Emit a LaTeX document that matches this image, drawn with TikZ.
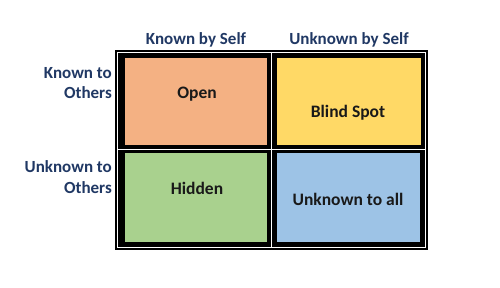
\documentclass[tikz,border=0pt]{standalone}
\usepackage{fontspec}
\setmainfont{Carlito}
\definecolor{navy}{HTML}{203864}
\definecolor{openc}{HTML}{F4B183}
\definecolor{blindc}{HTML}{FFD966}
\definecolor{hiddenc}{HTML}{A9D18E}
\definecolor{unkc}{HTML}{9DC3E6}
\begin{document}
\begin{tikzpicture}[x=1pt,y=-1pt,
  cell/.style={draw=none,inner sep=0pt,anchor=north west},
  celltext/.style={font=\fontsize{17.5}{19}\selectfont\bfseries,text=black!90},
  head/.style={font=\fontsize{17}{19}\selectfont\bfseries,text=navy},
  side/.style={font=\fontsize{17}{20.5}\selectfont\bfseries,text=navy,align=right,anchor=east,inner sep=0pt}]
\useasboundingbox[fill=white] (0,0) rectangle (500,287);
% outer frame
\fill[black] (115,50) rectangle (428,250);
\draw[white,line width=0.9pt] (117.5,52.5) rectangle (425.5,247.5);
\draw[white,line width=0.9pt] (271.5,52.5) -- (271.5,247.5);
\draw[white,line width=0.9pt] (117.5,149) -- (425.5,149);
% cells
\node[cell,fill=openc,minimum width=142pt,minimum height=87pt] (open) at (125,58) {};
\node[cell,fill=blindc,minimum width=144pt,minimum height=87pt] (blind) at (277,58) {};
\node[cell,fill=hiddenc,minimum width=142pt,minimum height=89pt] (hidden) at (125,153) {};
\node[cell,fill=unkc,minimum width=143pt,minimum height=89pt] (unk) at (277,153) {};
% cell texts
\node[celltext] (topen) at (197,94) {Open};
\node[celltext] (tblind) at (348,113) {Blind Spot};
\node[celltext] (thidden) at (197,188) {Hidden};
\node[celltext] (tunk) at (348,199) {Unknown to all};
% headings
\node[head] (h1) at (196,40) {Known by Self};
\node[head] (h2) at (349,40) {Unknown by Self};
\node[side] (s1) at (112,83) {Known to\\Others};
\node[side] (s2) at (112,177) {Unknown to\\Others};
\end{tikzpicture}
\end{document}
